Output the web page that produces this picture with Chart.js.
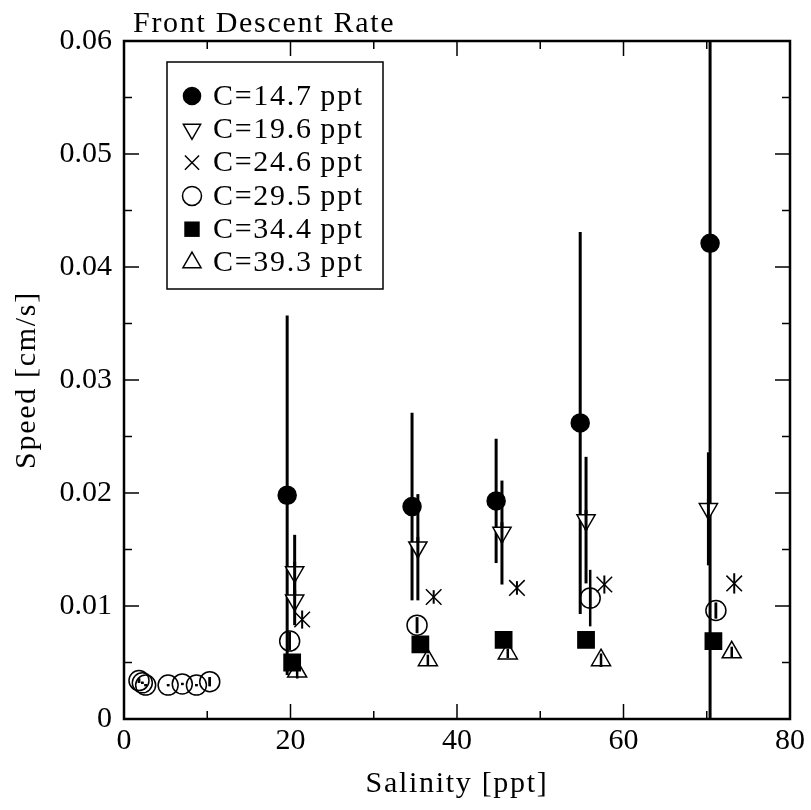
<!DOCTYPE html>
<html>
<head>
<meta charset="utf-8">
<script src="https://cdn.jsdelivr.net/npm/chart.js@4.4.1/dist/chart.umd.min.js"></script>
<style>
  html, body { margin: 0; padding: 0; background: #fff; }
  #wrap { width: 811px; height: 810px; }
</style>
</head>
<body>
<div id="wrap"><canvas id="descent-chart" width="811" height="810"></canvas></div>
<script>
// Series values (x: salinity in ppt, y: speed in cm/s, err: half bar height)
const seriesNames = ['C=14.7\u2009ppt', 'C=19.6\u2009ppt', 'C=24.6\u2009ppt', 'C=29.5\u2009ppt', 'C=34.4\u2009ppt', 'C=39.3\u2009ppt'];

const c147X = [19.6, 34.6, 44.7, 54.8, 70.4];
const c147Y = [0.0198, 0.0188, 0.0193, 0.0262, 0.0421];
const c147Err = [0.0159, 0.0083, 0.0055, 0.0169, 0.045];

const c196X = [20.5, 20.5, 35.3, 45.4, 55.5, 70.2];
const c196Y = [0.0130, 0.0105, 0.0152, 0.0165, 0.0176, 0.0186];
const c196Err = [0.0033, 0.0022, 0.0047, 0.0046, 0.0056, 0.005];

const c246X = [21.4, 37.2, 47.2, 57.7, 73.3];
const c246Y = [0.0088, 0.0108, 0.0116, 0.0119, 0.0120];
const c246Err = [0.0008, 0.0006, 0.0006, 0.0008, 0.0009];

const c295X = [1.8, 2.2, 2.6, 5.3, 7.0, 8.7, 10.3, 19.9, 35.2, 56.0, 71.1];
const c295Y = [0.0034, 0.0032, 0.0030, 0.0030, 0.0031, 0.0030, 0.0033, 0.0069, 0.0083, 0.0107, 0.0096];
const c295Err = [0.0002, 0.0001, 0.0001, 0.0001, 0.0001, 0.0001, 0.0004, 0.0008, 0.0007, 0.0025, 0.0007];

const c344X = [20.2, 35.6, 45.6, 55.5, 70.8];
const c344Y = [0.0050, 0.0066, 0.0070, 0.0070, 0.0069];
const c344Err = [0.0006, 0.0003, 0.0004, 0.0003, 0.0003];

const c393X = [20.8, 36.5, 46.1, 57.3, 73.0];
const c393Y = [0.0042, 0.0052, 0.0058, 0.0052, 0.0059];
const c393Err = [0.0006, 0.0005, 0.0004, 0.0006, 0.0005];

// tick positions
const xMajorTicks = [0, 20, 40, 60, 80];
const xMinorTicks = [10, 30, 50, 70];
const yMajorTicks = [0, 0.01, 0.02, 0.03, 0.04, 0.05, 0.06];
const yMinorTicks = [0.005, 0.015, 0.025, 0.035, 0.045, 0.055];

const serif = "'Liberation Serif', 'DejaVu Serif', serif";
const wordSpacing = '1.7px'; // widens Times a bit towards Computer Modern

// marker look per series
const markers = [
    { style: 'circle', radius: 9, rotation: 0, fill: '#000', barWidth: 3 },
    { style: 'triangle', radius: 10.5, rotation: 180, fill: '#fff', barWidth: 3 },
    { style: 'crossRot', radius: 11, rotation: 0, fill: '#000', barWidth: 2 },
    { style: 'circle', radius: 10, rotation: 0, fill: 'rgba(255,255,255,0)', barWidth: 2.5 },
    { style: 'rect', radius: 11.5, rotation: 0, fill: '#000', barWidth: 2 },
    { style: 'triangle', radius: 11, rotation: 0, fill: '#fff', barWidth: 2.5 },
];

const seriesX = [c147X, c196X, c246X, c295X, c344X, c393X];
const seriesY = [c147Y, c196Y, c246Y, c295Y, c344Y, c393Y];
const seriesErr = [c147Err, c196Err, c246Err, c295Err, c344Err, c393Err];

function toPoints(xs, ys) {
    return xs.map((x, i) => ({ x: x, y: ys[i] }));
}

const datasets = seriesNames.map((name, i) => ({
    label: name,
    data: toPoints(seriesX[i], seriesY[i]),
    errors: seriesErr[i],
    showLine: false,
    pointStyle: markers[i].style,
    pointRadius: markers[i].radius,
    pointRotation: markers[i].rotation,
    pointBackgroundColor: markers[i].fill,
    pointBorderColor: '#000',
    pointBorderWidth: 1.5,
    pointHoverRadius: markers[i].radius,
}));

// small marker painter for the legend box
function drawMarker(ctx, m, x, y) {
    ctx.save();
    ctx.strokeStyle = '#000';
    ctx.fillStyle = m.fill;
    ctx.lineWidth = 1.5;
    ctx.beginPath();
    const r = m.radius;
    if (m.style === 'circle') {
        ctx.arc(x, y, r, 0, Math.PI * 2);
        ctx.fill();
        ctx.stroke();
    } else if (m.style === 'triangle') {
        let a = m.rotation * Math.PI / 180;
        for (let k = 0; k < 3; k++) {
            const px = x + Math.sin(a) * r, py = y - Math.cos(a) * r;
            if (k === 0) ctx.moveTo(px, py); else ctx.lineTo(px, py);
            a += 2 * Math.PI / 3;
        }
        ctx.closePath();
        ctx.fill();
        ctx.stroke();
    } else if (m.style === 'crossRot') {
        const d = r * Math.SQRT1_2;
        ctx.moveTo(x - d, y - d); ctx.lineTo(x + d, y + d);
        ctx.moveTo(x + d, y - d); ctx.lineTo(x - d, y + d);
        ctx.stroke();
    } else if (m.style === 'rect') {
        const s = r * Math.SQRT1_2;
        ctx.rect(x - s, y - s, 2 * s, 2 * s);
        ctx.fill();
    }
    ctx.restore();
}

const framePlugin = {
    id: 'frame',
    beforeDatasetsDraw(chart) {
        // error bars, drawn under the markers
        const { ctx, chartArea: a, scales } = chart;
        ctx.save();
        ctx.beginPath();
        ctx.rect(a.left, a.top, a.right - a.left, a.bottom - a.top);
        ctx.clip();
        ctx.strokeStyle = '#000';
        chart.data.datasets.forEach((ds, i) => {
            ctx.lineWidth = markers[i].barWidth;
            ds.data.forEach((p, j) => {
                const e = ds.errors[j];
                const px = scales.x.getPixelForValue(p.x);
                ctx.beginPath();
                ctx.moveTo(px, scales.y.getPixelForValue(p.y - e));
                ctx.lineTo(px, scales.y.getPixelForValue(p.y + e));
                ctx.stroke();
            });
        });
        ctx.restore();
    },
    afterDatasetsDraw(chart) {
        const { ctx, chartArea: a, scales } = chart;
        ctx.save();
        // bars over the open markers so they show through
        ctx.strokeStyle = '#000';
        chart.data.datasets.forEach((ds, i) => {
            if (markers[i].fill === '#000') return;
            ctx.lineWidth = markers[i].barWidth;
            ds.data.forEach((p, j) => {
                const e = Math.min(ds.errors[j], 0.0009);
                const px = scales.x.getPixelForValue(p.x);
                ctx.beginPath();
                ctx.moveTo(px, scales.y.getPixelForValue(Math.max(p.y - e, 0)));
                ctx.lineTo(px, scales.y.getPixelForValue(p.y + e));
                ctx.stroke();
            });
        });

        // inward ticks on all four sides
        ctx.lineWidth = 1.5;
        const tick = (x1, y1, x2, y2) => { ctx.beginPath(); ctx.moveTo(x1, y1); ctx.lineTo(x2, y2); ctx.stroke(); };
        xMajorTicks.forEach(v => { const px = scales.x.getPixelForValue(v); tick(px, a.bottom, px, a.bottom - 15); tick(px, a.top, px, a.top + 15); });
        xMinorTicks.forEach(v => { const px = scales.x.getPixelForValue(v); tick(px, a.bottom, px, a.bottom - 8); tick(px, a.top, px, a.top + 8); });
        yMajorTicks.forEach(v => { const py = scales.y.getPixelForValue(v); tick(a.left, py, a.left + 15, py); tick(a.right, py, a.right - 15, py); });
        yMinorTicks.forEach(v => { const py = scales.y.getPixelForValue(v); tick(a.left, py, a.left + 8, py); tick(a.right, py, a.right - 8, py); });

        // frame
        ctx.lineWidth = 2.5;
        ctx.strokeRect(a.left, a.top, a.right - a.left, a.bottom - a.top);

        ctx.fillStyle = '#000';
        ctx.font = '30px ' + serif;
        ctx.letterSpacing = wordSpacing;

        // title
        ctx.textAlign = 'left';
        ctx.textBaseline = 'alphabetic';
        ctx.fillText('Front Descent Rate', a.left + 9, a.top - 9);

        // axis titles
        ctx.textAlign = 'center';
        ctx.textBaseline = 'middle';
        ctx.fillText('Salinity [ppt]', (a.left + a.right) / 2, 784);
        ctx.save();
        ctx.translate(27, (a.top + a.bottom) / 2);
        ctx.rotate(-Math.PI / 2);
        ctx.fillText('Speed [cm/s]', 0, 0);
        ctx.restore();

        // legend box
        const bx = a.left + 43, by = a.top + 21, bw = 216, bh = 227;
        ctx.fillStyle = '#fff';
        ctx.fillRect(bx, by, bw, bh);
        ctx.lineWidth = 1.5;
        ctx.strokeRect(bx, by, bw, bh);
        ctx.textAlign = 'left';
        seriesNames.forEach((name, i) => {
            const ly = by + 34 + i * 33.3;
            drawMarker(ctx, markers[i].style === 'crossRot' ? { ...markers[i], radius: 10 } : { ...markers[i], radius: markers[i].radius * 0.95 }, bx + 25, ly);
            ctx.fillStyle = '#000';
            ctx.fillText(name, bx + 46, ly + 1);
        });
        ctx.restore();
    }
};

Chart.defaults.color = '#000';
Chart.defaults.font.family = serif;

new Chart('descent-chart', {
    type: 'scatter',
    data: { datasets: datasets },
    options: {
        responsive: false,
        animation: false,
        layout: { padding: { top: 41, right: 21, left: 0, bottom: 0 } },
        plugins: {
            legend: { display: false },
            tooltip: { enabled: false },
        },
        scales: {
            x: {
                type: 'linear',
                min: 0,
                max: 80,
                afterFit: s => { s.height = 91; },
                grid: { display: false, drawTicks: false },
                border: { display: false },
                ticks: {
                    stepSize: 20,
                    padding: 4,
                    font: { size: 30 },
                },
            },
            y: {
                type: 'linear',
                min: 0,
                max: 0.06,
                afterFit: s => { s.width = 124; },
                grid: { display: false, drawTicks: false },
                border: { display: false },
                ticks: {
                    stepSize: 0.01,
                    padding: 12,
                    font: { size: 30 },
                    callback: v => v === 0 ? '0' : v.toFixed(2),
                },
            },
        },
    },
    plugins: [framePlugin],
});
</script>
</body>
</html>
